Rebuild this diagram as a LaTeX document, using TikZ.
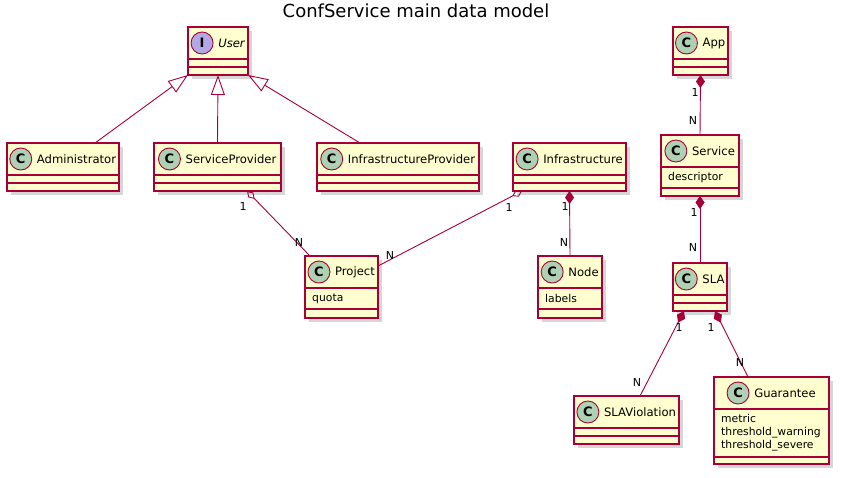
\documentclass[tikz,border=0pt]{standalone}
\usepackage{fontspec}
\setmainfont{DejaVu Sans}
\usetikzlibrary{arrows.meta,shadows,calc}
\definecolor{umlred}{HTML}{A80036}
\definecolor{umlfill}{HTML}{FEFECE}
\definecolor{umlgreen}{HTML}{ADD1B2}
\definecolor{umlviolet}{HTML}{B4A7E5}
\tikzset{
  cls/.style={draw=umlred,fill=umlfill,line width=1.1pt,anchor=north west,inner sep=0pt,outer sep=0pt,
    drop shadow={shadow xshift=4pt,shadow yshift=-4pt,fill=black!40,opacity=0.4}},
  sep/.style={draw=umlred,line width=1.1pt},
  cname/.style={inner sep=0pt,font=\fontsize{11.6}{14}\selectfont},
  spot/.style={circle,draw=umlred,line width=0.9pt,fill=umlgreen,minimum size=22pt,inner sep=0pt,
    font=\fontsize{13}{14}\selectfont\bfseries},
  attr/.style={anchor=west,inner sep=0pt,align=left,font=\fontsize{10.8}{13}\selectfont},
  mult/.style={inner sep=0pt,font=\fontsize{11}{13}\selectfont},
  inh/.style={draw=umlred,line width=0.9pt,-{Triangle[open,length=20pt,width=14pt]}},
  agg/.style={draw=umlred,line width=0.9pt,{Diamond[open,length=11pt,width=7pt]}-},
  comp/.style={draw=umlred,line width=0.9pt,{Diamond[length=13pt,width=9pt]}-},
}
\begin{document}
\begin{tikzpicture}[x=1pt,y=-1pt]
\useasboundingbox (0,0) rectangle (842,477);
\node[font=\fontsize{18}{20}\selectfont] (title) at (416,11) {ConfService main data model};
% User
\node[cls,minimum width=60pt,minimum height=48pt] (user) at (188,27) {};
\draw[sep] ($(user.north west)+(0,32)$) -- ($(user.north east)+(0,32)$);
\draw[sep] ($(user.north west)+(0,40)$) -- ($(user.north east)+(0,40)$);
\node[cname,font=\fontsize{11.6}{14}\selectfont\itshape] (userT) at ($(user.north)+(13.5,16)$) {User};
\node[spot,fill=umlviolet] (userS) at ($(userT.west)+(-16,0)$) {I};
% Administrator
\node[cls,minimum width=112pt,minimum height=48pt] (admin) at (7,143) {};
\draw[sep] ($(admin.north west)+(0,32)$) -- ($(admin.north east)+(0,32)$);
\draw[sep] ($(admin.north west)+(0,40)$) -- ($(admin.north east)+(0,40)$);
\node[cname] (adminT) at ($(admin.north)+(13.5,16)$) {Administrator};
\node[spot] (adminS) at ($(adminT.west)+(-16,0)$) {C};
% ServiceProvider
\node[cls,minimum width=127pt,minimum height=48pt] (sp) at (154,143) {};
\draw[sep] ($(sp.north west)+(0,32)$) -- ($(sp.north east)+(0,32)$);
\draw[sep] ($(sp.north west)+(0,40)$) -- ($(sp.north east)+(0,40)$);
\node[cname] (spT) at ($(sp.north)+(13.5,16)$) {ServiceProvider};
\node[spot] (spS) at ($(spT.west)+(-16,0)$) {C};
% InfrastructureProvider
\node[cls,minimum width=162pt,minimum height=48pt] (ip) at (317,143) {};
\draw[sep] ($(ip.north west)+(0,32)$) -- ($(ip.north east)+(0,32)$);
\draw[sep] ($(ip.north west)+(0,40)$) -- ($(ip.north east)+(0,40)$);
\node[cname] (ipT) at ($(ip.north)+(13.5,16)$) {InfrastructureProvider};
\node[spot] (ipS) at ($(ipT.west)+(-16,0)$) {C};
% Infrastructure
\node[cls,minimum width=113pt,minimum height=48pt] (infra) at (513,143) {};
\draw[sep] ($(infra.north west)+(0,32)$) -- ($(infra.north east)+(0,32)$);
\draw[sep] ($(infra.north west)+(0,40)$) -- ($(infra.north east)+(0,40)$);
\node[cname] (infraT) at ($(infra.north)+(13.5,16)$) {Infrastructure};
\node[spot] (infraS) at ($(infraT.west)+(-16,0)$) {C};
% Project
\node[cls,minimum width=73pt,minimum height=62pt] (project) at (305,256) {};
\draw[sep] ($(project.north west)+(0,32)$) -- ($(project.north east)+(0,32)$);
\draw[sep] ($(project.north west)+(0,53)$) -- ($(project.north east)+(0,53)$);
\node[cname] (projectT) at ($(project.north)+(13.5,16)$) {Project};
\node[spot] (projectS) at ($(projectT.west)+(-16,0)$) {C};
\node[attr] (projectA) at ($(project.north west)+(7,42.5)$) {quota};
% Node
\node[cls,minimum width=64pt,minimum height=62pt] (infranode) at (538,256) {};
\draw[sep] ($(infranode.north west)+(0,32)$) -- ($(infranode.north east)+(0,32)$);
\draw[sep] ($(infranode.north west)+(0,53)$) -- ($(infranode.north east)+(0,53)$);
\node[cname] (infranodeT) at ($(infranode.north)+(13.5,16)$) {Node};
\node[spot] (infranodeS) at ($(infranodeT.west)+(-16,0)$) {C};
\node[attr] (infranodeA) at ($(infranode.north west)+(7,42.5)$) {labels};
% App
\node[cls,minimum width=55pt,minimum height=48pt] (app) at (673,27) {};
\draw[sep] ($(app.north west)+(0,32)$) -- ($(app.north east)+(0,32)$);
\draw[sep] ($(app.north west)+(0,40)$) -- ($(app.north east)+(0,40)$);
\node[cname] (appT) at ($(app.north)+(13.5,16)$) {App};
\node[spot] (appS) at ($(appT.west)+(-16,0)$) {C};
% Service
\node[cls,minimum width=78pt,minimum height=61pt] (service) at (661,135) {};
\draw[sep] ($(service.north west)+(0,32)$) -- ($(service.north east)+(0,32)$);
\draw[sep] ($(service.north west)+(0,53)$) -- ($(service.north east)+(0,53)$);
\node[cname] (serviceT) at ($(service.north)+(13.5,16)$) {Service};
\node[spot] (serviceS) at ($(serviceT.west)+(-16,0)$) {C};
\node[attr] (serviceA) at ($(service.north west)+(7,42.5)$) {descriptor};
% SLA
\node[cls,minimum width=54pt,minimum height=48pt] (sla) at (673,263) {};
\draw[sep] ($(sla.north west)+(0,32)$) -- ($(sla.north east)+(0,32)$);
\draw[sep] ($(sla.north west)+(0,40)$) -- ($(sla.north east)+(0,40)$);
\node[cname] (slaT) at ($(sla.north)+(13.5,16)$) {SLA};
\node[spot] (slaS) at ($(slaT.west)+(-16,0)$) {C};
% SLAViolation
\node[cls,minimum width=105pt,minimum height=48pt] (slav) at (574,396) {};
\draw[sep] ($(slav.north west)+(0,32)$) -- ($(slav.north east)+(0,32)$);
\draw[sep] ($(slav.north west)+(0,40)$) -- ($(slav.north east)+(0,40)$);
\node[cname] (slavT) at ($(slav.north)+(13.5,16)$) {SLAViolation};
\node[spot] (slavS) at ($(slavT.west)+(-16,0)$) {C};
% Guarantee
\node[cls,minimum width=115pt,minimum height=87pt] (guar) at (714,377) {};
\draw[sep] ($(guar.north west)+(0,32)$) -- ($(guar.north east)+(0,32)$);
\draw[sep] ($(guar.north west)+(0,80)$) -- ($(guar.north east)+(0,80)$);
\node[cname] (guarT) at ($(guar.north)+(13.5,16)$) {Guarantee};
\node[spot] (guarS) at ($(guarT.west)+(-16,0)$) {C};
\node[attr] (guarA) at ($(guar.north west)+(7,56)$) {metric\\threshold\_warning\\threshold\_severe};
% relations
\draw[inh] ($(admin.north west)+(88,0)$) -- (user.south west);
\draw[inh] (sp.north) -- (user.south);
\draw[inh] ($(ip.north west)+(43,0)$) -- (user.south east);
\draw[agg] ($(sp.south west)+(93,0)$) -- ($(project.north west)+(5,0)$);
\draw[agg] ($(infra.south west)+(9,0)$) -- ($(project.north east)+(0,10)$);
\draw[comp] (infra.south) -- (infranode.north);
\draw[comp] (app.south) -- (service.north);
\draw[comp] (service.south) -- (sla.north);
\draw[comp] ($(sla.south west)+(11,0)$) -- ($(slav.north west)+(66,0)$);
\draw[comp] ($(sla.south east)+(-12,0)$) -- ($(guar.north west)+(34,0)$);
% multiplicities
\node[mult] (m1) at (243,206) {1};
\node[mult] (m2) at (299,242) {N};
\node[mult] (m3) at (509,207) {1};
\node[mult] (m4) at (390,255) {N};
\node[mult] (m5) at (565,206) {1};
\node[mult] (m6) at (564,242) {N};
\node[mult] (m7) at (695,92) {1};
\node[mult] (m8) at (693,120) {N};
\node[mult] (m9) at (694,212) {1};
\node[mult] (m10) at (693,247) {N};
\node[mult] (m11) at (679,327) {1};
\node[mult] (m12) at (637,382) {N};
\node[mult] (m13) at (711,327) {1};
\node[mult] (m14) at (740,362) {N};
\end{tikzpicture}
\end{document}
